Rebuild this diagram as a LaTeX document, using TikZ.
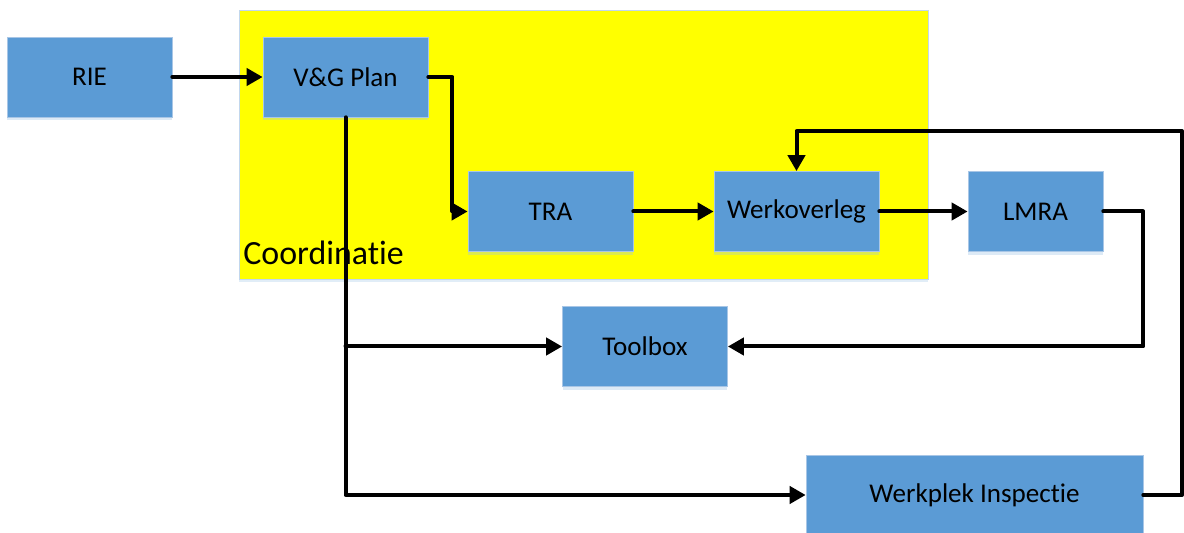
\documentclass[tikz,border=0pt]{standalone}
\usepackage{fontspec}
\setmainfont{Carlito}[Ligatures={CommonOff,ContextualOff},Contextuals=AlternateOff]
\usetikzlibrary{arrows.meta,shadows}
\definecolor{boxblue}{HTML}{5B9BD5}
\definecolor{rimblue}{HTML}{A8C6E6}
\definecolor{shadeblue}{HTML}{9DC3E6}
\definecolor{zoneyellow}{HTML}{FFFF00}

\begin{document}
\begin{tikzpicture}[x=0.02cm,y=-0.02cm,
  box/.style={draw=rimblue,line width=0.4pt,fill=boxblue,minimum width=3.3cm,minimum height=1.6cm,
    inner sep=0pt,font=\fontsize{15.4}{18}\selectfont,
    drop shadow={shadow xshift=0cm,shadow yshift=-0.07cm,fill=shadeblue,opacity=0.35}},
  zone/.style={draw=rimblue!70,line width=0.4pt,fill=zoneyellow,minimum width=13.78cm,minimum height=5.38cm,
    inner sep=0pt,drop shadow={shadow xshift=0cm,shadow yshift=-0.07cm,fill=shadeblue,opacity=0.3}},
  link/.style={line width=0.08cm,line cap=round,line join=round,-{Triangle[length=0.32cm,width=0.34cm]}}]
  \useasboundingbox (0,0) rectangle (1184,533);

  % coordination area
  \node[zone] (coord) at (583.5,144.5) {};
  \node[anchor=base west,inner sep=0pt,font=\fontsize{19.3}{23}\selectfont] (coordlabel) at (243,265) {Coordinatie};

  % boxes
  \node[box] (rie) at (89.5,77) {RIE};
  \node[box] (vg) at (345.5,77) {V\&G Plan};
  \node[box] (tra) at (550.5,211.5) {TRA};
  \node[box] (wo) at (796.5,211.5) {Werkoverleg};
  \node[box,minimum width=2.7cm] (lmra) at (1035.5,211.5) {LMRA};
  \node[box] (tb) at (645,346.5) {Toolbox};
  \node[box,minimum width=6.74cm] (wi) at (974.5,495) {Werkplek Inspectie};
  \coordinate (turn) at (1182,131);

  % connectors
  \draw[link] (rie) -- (vg);
  \draw[link] (vg.east) -- ++(24,0) |- (tra.west);
  \draw[link] (vg.south) |- (wi.west);
  \draw[link] (vg.south |- tb.west) -- (tb.west);
  \draw[link] (tra) -- (wo);
  \draw[link] (wo) -- (lmra);
  \draw[link] (lmra.east) -- ++(40,0) |- (tb.east);
  \draw[link] (wi.east) -| (turn) -| (wo.north);
\end{tikzpicture}
\end{document}
